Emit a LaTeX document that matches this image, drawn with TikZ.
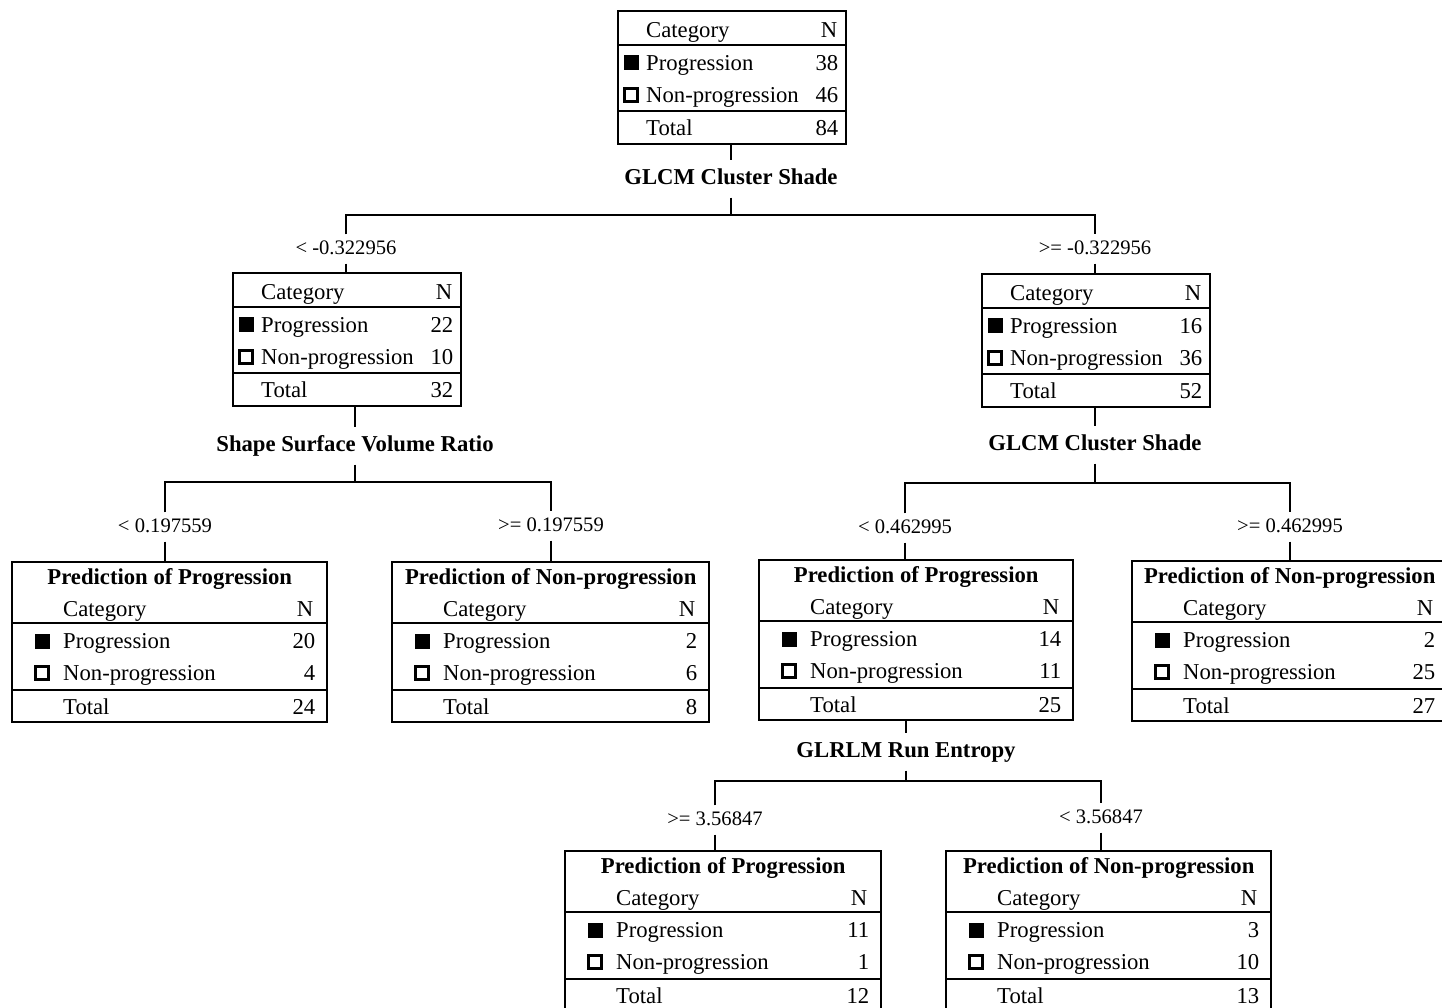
\documentclass[tikz,border=0pt]{standalone}
\usepackage{fontspec}
\setmainfont{Liberation Serif}
\usetikzlibrary{calc, positioning}

\begin{document}
\begin{tikzpicture}[
		x=1pt, y=-1pt,
		catbox/.style	={ rectangle, draw=black, line width=2.4pt,
			minimum width=228pt, minimum height=133pt,
			inner sep=0pt, anchor=north west
		},
		leafbox/.style	={ rectangle, draw=black, line width=2.4pt,
			minimum height=160pt, inner sep=0pt, anchor=north west
		},
		rule/.style		={ line width=1.3pt, draw=black },
		cell/.style		={ font=\fontsize{22.7}{26}\selectfont, inner sep=0pt },
		head/.style		={ font=\fontsize{22.7}{26}\selectfont\bfseries, inner sep=0pt },
		split/.style	={ font=\fontsize{22.7}{26}\selectfont\bfseries,
			text height=15pt, text depth=5pt, inner xsep=2pt, inner ysep=8.5pt
		},
		cut/.style		={ font=\fontsize{20.6}{24}\selectfont,
			text height=14pt, text depth=4pt, inner xsep=2pt, inner ysep=5.5pt
		},
		fullsq/.style	={ rectangle, fill=black, draw=black, line width=0.8pt,
			minimum size=14pt, inner sep=0pt
		},
		emptysq/.style	={ rectangle, fill=white, draw=black, line width=2.3pt,
			minimum size=13pt, inner sep=0pt
		},
		link/.style		={ line width=1.3pt, draw=black },
	]
	\useasboundingbox (0,0) rectangle (1442,1007);

	\def\innerlist{	root/617/10/38/46/84, lo/232/272/22/10/32, hi/981/273/16/36/52}
	\def\leaflist{	ll/11/561/315/Progression/20/4/24,
					lr/391/561/317/Non-progression/2/6/8,
					rl/758/559/314/Progression/14/11/25,
					rr/1131/560/315/Non-progression/2/25/27,
					bl/564/850/316/Progression/11/1/12,
					br/945/850/325/Non-progression/3/10/13}

	% draw inner boxes
	\foreach \name/\px/\py/\np/\nn/\nt in \innerlist {
			\node (\name) [catbox] at (\px,\py) {};
			\node (\name-cat) [cell, anchor=base west] at ($(\name.north west)+(29,27)$) {Category};
			\node (\name-n) [cell, anchor=base east] at ($(\name.north east)+(-10,27)$) {N};
			\draw [rule] ($(\name.north west)+(0,35)$) -- ($(\name.north east)+(0,35)$);
			\node (\name-sqp) [fullsq] at ($(\name.north west)+(14,52)$) {};
			\node (\name-p) [cell, anchor=base west] at ($(\name.north west)+(29,60)$) {Progression};
			\node (\name-vp) [cell, anchor=base east] at ($(\name.north east)+(-9,60)$) {\np};
			\node (\name-sqn) [emptysq] at ($(\name.north west)+(14,85)$) {};
			\node (\name-q) [cell, anchor=base west] at ($(\name.north west)+(29,92)$) {Non-progression};
			\node (\name-vq) [cell, anchor=base east] at ($(\name.north east)+(-9,92)$) {\nn};
			\draw [rule] ($(\name.north west)+(0,101)$) -- ($(\name.north east)+(0,101)$);
			\node (\name-t) [cell, anchor=base west] at ($(\name.north west)+(29,125)$) {Total};
			\node (\name-vt) [cell, anchor=base east] at ($(\name.north east)+(-9,125)$) {\nt};
		}

	% draw leaf boxes
	\foreach \name/\px/\py/\w/\what/\np/\nn/\nt in \leaflist {
			\node (\name) [leafbox, minimum width=\w] at (\px,\py) {};
			\node (\name-head) [head, anchor=base] at ($(\name.north)+(0,23)$) {Prediction of \what};
			\node (\name-cat) [cell, anchor=base west] at ($(\name.north west)+(52,55)$) {Category};
			\node (\name-n) [cell, anchor=base east] at ($(\name.north east)+(-15,55)$) {N};
			\draw [rule] ($(\name.north west)+(0,62)$) -- ($(\name.north east)+(0,62)$);
			\node (\name-sqp) [fullsq] at ($(\name.north west)+(31,80)$) {};
			\node (\name-p) [cell, anchor=base west] at ($(\name.north west)+(52,87)$) {Progression};
			\node (\name-vp) [cell, anchor=base east] at ($(\name.north east)+(-13,87)$) {\np};
			\node (\name-sqn) [emptysq] at ($(\name.north west)+(31,112)$) {};
			\node (\name-q) [cell, anchor=base west] at ($(\name.north west)+(52,119)$) {Non-progression};
			\node (\name-vq) [cell, anchor=base east] at ($(\name.north east)+(-13,119)$) {\nn};
			\draw [rule] ($(\name.north west)+(0,129)$) -- ($(\name.north east)+(0,129)$);
			\node (\name-t) [cell, anchor=base west] at ($(\name.north west)+(52,153)$) {Total};
			\node (\name-vt) [cell, anchor=base east] at ($(\name.north east)+(-13,153)$) {\nt};
		}

	% split variables and bars
	\node (v0) [split] at (731,179) {GLCM Cluster Shade};
	\node (v1) [split] at (355,446) {Shape Surface Volume Ratio};
	\node (v2) [split] at (1095,445) {GLCM Cluster Shade};
	\node (v3) [split] at (906,752) {GLRLM Run Entropy};
	\coordinate (b0) at (731,215);
	\coordinate (b1) at (355,482);
	\coordinate (b2) at (1095,483);
	\coordinate (b3) at (906,781);

	% cut points
	\node (t1) [cut] at (346,249) {< -0.322956};
	\node (t2) [cut] at (1095,249) {>= -0.322956};
	\node (t3) [cut] at (165,527) {< 0.197559};
	\node (t4) [cut] at (551,526) {>= 0.197559};
	\node (t5) [cut] at (905,528) {< 0.462995};
	\node (t6) [cut] at (1290,527) {>= 0.462995};
	\node (t7) [cut] at (715,820) {>= 3.56847};
	\node (t8) [cut] at (1101,818) {< 3.56847};

	% draw branches
	\draw [link] (v0.north |- root.south) -- (v0.north);
	\draw [link] (v0.south) -- (b0);
	\draw [link] (t1.north) |- (b0) -| (t2.north);
	\draw [link] (t1.south) -- (t1.south |- lo.north);
	\draw [link] (t2.south) -- (t2.south |- hi.north);

	\draw [link] (v1.north |- lo.south) -- (v1.north);
	\draw [link] (v1.south) -- (b1);
	\draw [link] (t3.north) |- (b1) -| (t4.north);
	\draw [link] (t3.south) -- (t3.south |- ll.north);
	\draw [link] (t4.south) -- (t4.south |- lr.north);

	\draw [link] (v2.north |- hi.south) -- (v2.north);
	\draw [link] (v2.south) -- (b2);
	\draw [link] (t5.north) |- (b2) -| (t6.north);
	\draw [link] (t5.south) -- (t5.south |- rl.north);
	\draw [link] (t6.south) -- (t6.south |- rr.north);

	\draw [link] (v3.north |- rl.south) -- (v3.north);
	\draw [link] (v3.south) -- (b3);
	\draw [link] (t7.north) |- (b3) -| (t8.north);
	\draw [link] (t7.south) -- (t7.south |- bl.north);
	\draw [link] (t8.south) -- (t8.south |- br.north);

\end{tikzpicture}
\end{document}
